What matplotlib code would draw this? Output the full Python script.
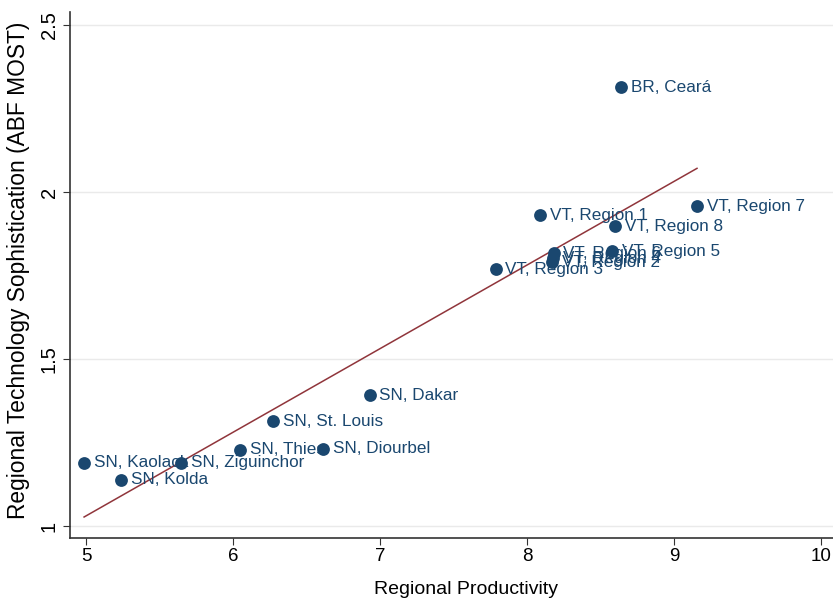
import matplotlib.pyplot as plt
import numpy as np

plt.rcParams['font.family'] = ['Liberation Sans', 'DejaVu Sans']

labels = ["BR, Ceará", "VT, Region 7", "VT, Region 1", "VT, Region 8", "VT, Region 5",
          "VT, Region 6", "VT, Region 4", "VT, Region 2", "VT, Region 3",
          "SN, Dakar", "SN, St. Louis", "SN, Thies", "SN, Diourbel",
          "SN, Kaolack", "SN, Ziguinchor", "SN, Kolda"]
productivity = [8.64, 9.155, 8.09, 8.60, 8.58,
                8.18, 8.175, 8.17, 7.786,
                6.928, 6.274, 6.049, 6.61,
                4.986, 5.647, 5.238]
sophistication = [2.314, 1.958, 1.931, 1.898, 1.823,
                  1.817, 1.802, 1.790, 1.769,
                  1.392, 1.314, 1.228, 1.231,
                  1.190, 1.190, 1.138]

navy = '#1a476f'
maroon = '#90353b'

fig = plt.figure(figsize=(8.33, 5.98), dpi=100)
ax = fig.add_axes([0.084, 0.1003, 0.916, 0.8797])

x = np.array(productivity)
y = np.array(sophistication)

# linear fit over the observed range
slope, icpt = np.polyfit(x, y, 1)
xs = np.array([x.min(), x.max()])
ax.plot(xs, icpt + slope * xs, color=maroon, lw=1.1, zorder=2)

ax.scatter(x, y, s=85, color=navy, zorder=4, linewidths=0)
for lab, xi, yi in zip(labels, x, y):
    ax.annotate(lab, (xi, yi), xytext=(7, 0), textcoords='offset points',
                ha='left', va='center', fontsize=12.3, color=navy, zorder=3)

ax.set_xlim(4.89, 10.08)
ax.set_ylim(0.964, 2.54)
ax.set_xticks([5, 6, 7, 8, 9, 10])
ax.set_yticks([1, 1.5, 2, 2.5])
ax.set_yticklabels(['1', '1.5', '2', '2.5'], rotation=90, va='center')
ax.grid(True, axis='y', color='#eaeaea', lw=1)
ax.set_axisbelow(True)
ax.tick_params(axis='both', length=5, color='#333333', labelcolor='black')
ax.tick_params(axis='x', labelsize=13.5, pad=2)
ax.tick_params(axis='y', labelsize=14.5, pad=3)

for s in ['top', 'right']:
    ax.spines[s].set_visible(False)
for s in ['left', 'bottom']:
    ax.spines[s].set_color('#333333')
    ax.spines[s].set_linewidth(1.2)

ax.set_xlabel('Regional Productivity', fontsize=14)
ax.xaxis.set_label_coords(0.519, -0.082)
ax.set_ylabel('Regional Technology Sophistication (ABF MOST)', fontsize=16.4)
ax.yaxis.set_label_coords(-0.052, 0.508)

fig.savefig('out.png', dpi=100)
